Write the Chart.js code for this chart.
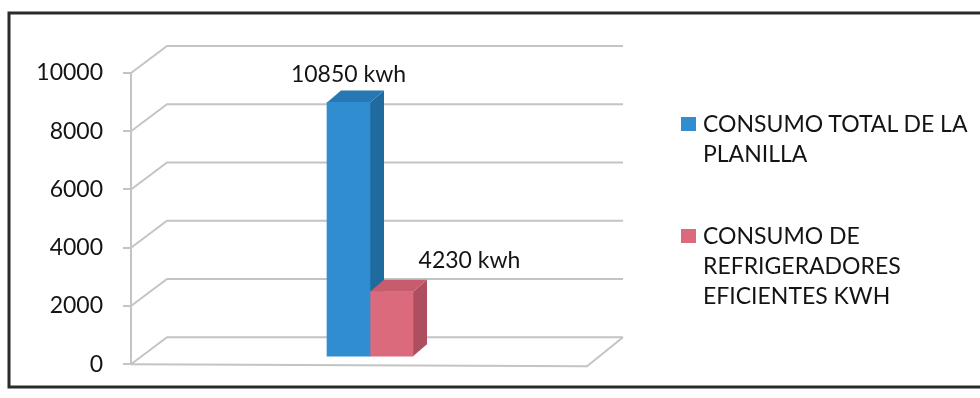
<!DOCTYPE html>
<html>
<head>
<meta charset="utf-8">
<script src="https://cdn.jsdelivr.net/npm/chart.js@4.4.1/dist/chart.umd.min.js"></script>
<style>
    html, body { margin:0; padding:0; background:#fff; }
    #wrap { position:relative; width:980px; height:398px; }
    #legend { position:absolute; left:681px; top:108px; font-family:Lato, sans-serif; font-size:23px; color:#141414; }
    .lg-item { position:relative; padding-left:22px; line-height:30px; margin-bottom:52px; }
    .lg-box { position:absolute; left:0; top:9px; width:15px; height:14px; }
</style>
</head>
<body>
<div id="wrap">
    <canvas id="chart" width="980" height="398"></canvas>
    <div id="legend"></div>
</div>
<script>
(function() {
    'use strict';

    // data
    const categories = [''];
    const seriesNames = [
        ['CONSUMO TOTAL DE LA', 'PLANILLA'],
        ['CONSUMO DE', 'REFRIGERADORES', 'EFICIENTES KWH']
    ];
    const totalValues = [8750];
    const efficientValues = [2250];
    const valueLabels = ['10850 kwh', '4230 kwh'];
    const yTicks = [0, 2000, 4000, 6000, 8000, 10000];

    const front = ['#2f8dd0', '#db6a7d'];
    const side = ['#1f6a9f', '#ad4f5f'];
    const top = ['#2677b4', '#c65c6e'];
    const gridCol = '#c4c4c4';

    // wall depth and bar depth (oblique 3d look)
    const WALL = { dx: 36, dy: 27 };
    const SHIFT = { dx: 11, dy: 7 };
    const BAR = { dx: 14, dy: 12 };
    const labelOffsets = [{ x: 0, y: -28 }, { x: 78, y: -31 }];

    const frame3d = {
        id: 'frame3d',
        beforeDraw(chart) {
            const ctx = chart.ctx, a = chart.chartArea, y = chart.scales.y;
            ctx.save();
            // outer frame
            ctx.strokeStyle = '#2b2b2b';
            ctx.lineWidth = 3;
            ctx.strokeRect(9, 13, 975, 374);
            // left wall + back wall grid
            ctx.strokeStyle = gridCol;
            ctx.lineWidth = 2;
            yTicks.forEach(v => {
                const py = y.getPixelForValue(v);
                ctx.beginPath();
                ctx.moveTo(a.left, py);
                ctx.lineTo(a.left + WALL.dx, py - WALL.dy);
                ctx.lineTo(a.right + WALL.dx, py - WALL.dy);
                ctx.stroke();
            });
            // floor front edge
            const p0 = y.getPixelForValue(0);
            ctx.beginPath();
            ctx.moveTo(a.left, p0);
            ctx.lineTo(a.right, p0 + 2);
            ctx.lineTo(a.right + WALL.dx, p0 - WALL.dy);
            ctx.stroke();
            ctx.restore();
        },
        beforeDatasetsDraw(chart) {
            const ctx = chart.ctx;
            ctx.save();
            ctx.translate(SHIFT.dx, -SHIFT.dy);
            chart.data.datasets.forEach((ds, i) => {
                chart.getDatasetMeta(i).data.forEach(bar => {
                    const p = bar.getProps(['x', 'y', 'base', 'width'], true);
                    const l = p.x - p.width / 2, r = p.x + p.width / 2;
                    ctx.fillStyle = side[i];
                    ctx.beginPath();
                    ctx.moveTo(r, p.y); ctx.lineTo(r, p.base);
                    ctx.lineTo(r + BAR.dx, p.base - BAR.dy); ctx.lineTo(r + BAR.dx, p.y - BAR.dy);
                    ctx.closePath(); ctx.fill();
                    ctx.fillStyle = top[i];
                    ctx.beginPath();
                    ctx.moveTo(l, p.y); ctx.lineTo(r, p.y);
                    ctx.lineTo(r + BAR.dx, p.y - BAR.dy); ctx.lineTo(l + BAR.dx, p.y - BAR.dy);
                    ctx.closePath(); ctx.fill();
                });
            });
        },
        afterDatasetsDraw(chart) {
            const ctx = chart.ctx;
            ctx.restore();
            ctx.save();
            ctx.font = '23px Lato, sans-serif';
            ctx.fillStyle = '#141414';
            ctx.textAlign = 'center';
            ctx.textBaseline = 'middle';
            chart.data.datasets.forEach((ds, i) => {
                const bar = chart.getDatasetMeta(i).data[0];
                const p = bar.getProps(['x', 'y'], true);
                ctx.fillText(valueLabels[i], p.x + SHIFT.dx + labelOffsets[i].x, p.y - SHIFT.dy + labelOffsets[i].y);
            });
            ctx.restore();
        }
    };

    const chart = new Chart(document.getElementById('chart'), {
        type: 'bar',
        data: {
            labels: categories,
            datasets: [
                { label: seriesNames[0].join(' '), data: totalValues, backgroundColor: front[0] },
                { label: seriesNames[1].join(' '), data: efficientValues, backgroundColor: front[1] }
            ]
        },
        options: {
            responsive: false,
            animation: false,
            layout: { padding: { top: 73, bottom: 32, left: 0, right: 393 } },
            datasets: { bar: { barThickness: 43, borderWidth: 0 } },
            plugins: { legend: { display: false }, tooltip: { enabled: false } },
            scales: {
                x: { display: false },
                y: {
                    min: 0, max: 10000,
                    afterFit: s => { s.width = 131; },
                    afterBuildTicks: s => { s.ticks = yTicks.map(v => ({ value: v })); },
                    grid: { drawOnChartArea: false, color: gridCol, lineWidth: 2, tickLength: 8 },
                    border: { color: gridCol, width: 2 },
                    ticks: {
                        padding: 20, color: '#141414', font: { family: 'Lato', size: 23 },
                        callback: v => String(v)
                    }
                }
            }
        },
        plugins: [frame3d]
    });

    // legend as html text, lines as in the picture
    const lg = document.getElementById('legend');
    seriesNames.forEach((lines, i) => {
        const it = document.createElement('div');
        it.className = 'lg-item';
        it.innerHTML = '<span class="lg-box" style="background:' + front[i] + '"></span>' + lines.join('<br>');
        lg.appendChild(it);
    });
})();
</script>
</body>
</html>
